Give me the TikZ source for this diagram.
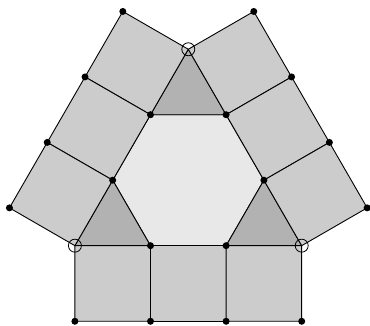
\documentclass[tikz,border=0pt]{standalone}
\usetikzlibrary{calc}

\begin{document}
\begin{tikzpicture}[
    x=1pt, y=1pt,
    sq/.style={fill=black!20, draw=black, line width=0.9pt, line join=round},
    tri/.style={fill=black!30, draw=black, line width=0.9pt, line join=round},
    hex/.style={fill=black!9, draw=black, line width=0.9pt, line join=round},
    dot/.style={circle, fill=black, inner sep=0pt, minimum size=7pt},
    ring/.style={circle, draw=black, line width=0.8pt, inner sep=0pt, minimum size=13pt}
]
\useasboundingbox (0,0) rectangle (370,325);

% Hexagon corners
\coordinate (C) at (188.3,144.8);
\coordinate (v0) at ($(C)+(0:75.6)$);
\coordinate (v60) at ($(C)+(60:75.6)$);
\coordinate (v120) at ($(C)+(120:75.6)$);
\coordinate (v180) at ($(C)+(180:75.6)$);
\coordinate (v240) at ($(C)+(240:75.6)$);
\coordinate (v300) at ($(C)+(300:75.6)$);

% Triangle tips
\coordinate (t90) at ($(C)+(90:130.94)$);
\coordinate (t210) at ($(C)+(210:130.94)$);
\coordinate (t330) at ($(C)+(330:130.94)$);

% Outer corners of the three strips
\coordinate (o1) at ($(t90)+(150:75.6)$);
\coordinate (o2) at ($(v120)+(150:75.6)$);
\coordinate (o3) at ($(v180)+(150:75.6)$);
\coordinate (o4) at ($(t210)+(150:75.6)$);
\coordinate (p1) at ($(t90)+(30:75.6)$);
\coordinate (p2) at ($(v60)+(30:75.6)$);
\coordinate (p3) at ($(v0)+(30:75.6)$);
\coordinate (p4) at ($(t330)+(30:75.6)$);
\coordinate (q1) at ($(t210)+(270:75.6)$);
\coordinate (q2) at ($(v240)+(270:75.6)$);
\coordinate (q3) at ($(v300)+(270:75.6)$);
\coordinate (q4) at ($(t330)+(270:75.6)$);

% Hexagon
\draw[hex] (v0) -- (v60) -- (v120) -- (v180) -- (v240) -- (v300) -- cycle;

% Triangles
\draw[tri] (v60) -- (t90) -- (v120) -- cycle;
\draw[tri] (v180) -- (t210) -- (v240) -- cycle;
\draw[tri] (v300) -- (t330) -- (v0) -- cycle;

% Squares, left strip
\draw[sq] (t90) -- (v120) -- (o2) -- (o1) -- cycle;
\draw[sq] (v120) -- (v180) -- (o3) -- (o2) -- cycle;
\draw[sq] (v180) -- (t210) -- (o4) -- (o3) -- cycle;
% Squares, right strip
\draw[sq] (t90) -- (v60) -- (p2) -- (p1) -- cycle;
\draw[sq] (v60) -- (v0) -- (p3) -- (p2) -- cycle;
\draw[sq] (v0) -- (t330) -- (p4) -- (p3) -- cycle;
% Squares, bottom strip
\draw[sq] (t210) -- (v240) -- (q2) -- (q1) -- cycle;
\draw[sq] (v240) -- (v300) -- (q3) -- (q2) -- cycle;
\draw[sq] (v300) -- (t330) -- (q4) -- (q3) -- cycle;

% Vertex marks
\foreach \p in {v0,v60,v120,v180,v240,v300,o1,o2,o3,o4,p1,p2,p3,p4,q1,q2,q3,q4}
    \node[dot] (d-\p) at (\p) {};
\node[ring] (r90) at (t90) {};
\node[ring] (r210) at (t210) {};
\node[ring] (r330) at (t330) {};

\end{tikzpicture}
\end{document}
